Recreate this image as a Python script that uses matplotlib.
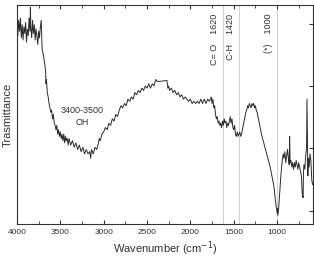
import numpy as np
import matplotlib
matplotlib.use("Agg")
import matplotlib.pyplot as plt

plt.rcParams['font.family'] = ['Liberation Sans', 'DejaVu Sans']

# wavenumber (cm-1) and transmittance (arbitrary units)
wavenumber = [4000, 3990, 3980, 3970, 3960, 3950, 3940, 3930, 3920, 3910, 3900, 3890, 3880, 3870,
              3860, 3850, 3845, 3840, 3830, 3820, 3810, 3800, 3790, 3780, 3770, 3760, 3750, 3740,
              3730, 3720, 3710, 3700, 3690, 3680, 3670, 3665, 3660, 3650, 3640, 3630, 3620, 3610,
              3600, 3590, 3580, 3570, 3560, 3550, 3540, 3530, 3520, 3510, 3500, 3490, 3480, 3470,
              3460, 3450, 3440, 3430, 3420, 3410, 3400, 3380, 3360, 3340, 3320, 3300, 3280, 3260,
              3240, 3220, 3200, 3180, 3160, 3150, 3140, 3120, 3100, 3080, 3060, 3050, 3040, 3020,
              3000, 2980, 2960, 2940, 2920, 2900, 2880, 2860, 2840, 2820, 2800, 2780, 2760, 2740,
              2720, 2700, 2680, 2660, 2640, 2620, 2600, 2580, 2560, 2540, 2520, 2500, 2480, 2460,
              2440, 2420, 2400, 2380, 2270, 2260, 2250, 2240, 2220, 2200, 2180, 2160, 2140, 2120,
              2100, 2080, 2060, 2040, 2020, 2000, 1980, 1960, 1940, 1920, 1900, 1880, 1860, 1840,
              1820, 1800, 1780, 1760, 1750, 1740, 1730, 1720, 1710, 1700, 1690, 1680, 1670, 1660,
              1650, 1640, 1630, 1620, 1610, 1600, 1590, 1580, 1570, 1560, 1550, 1540, 1530, 1520,
              1510, 1500, 1490, 1480, 1470, 1460, 1450, 1440, 1430, 1420, 1410, 1400, 1390, 1380,
              1370, 1360, 1350, 1340, 1330, 1320, 1310, 1300, 1290, 1280, 1270, 1260, 1250, 1240,
              1230, 1220, 1210, 1200, 1180, 1160, 1140, 1120, 1100, 1080, 1060, 1040, 1030, 1020,
              1010, 1000, 995, 990, 980, 970, 960, 950, 940, 930, 920, 910, 900, 890,
              880, 870, 860, 855, 850, 840, 830, 820, 810, 800, 790, 780, 770, 760,
              750, 740, 730, 720, 710, 700, 695, 690, 680, 670, 660, 655, 650, 645,
              640, 630, 620, 610, 600, 590]
transmittance = [90, 86, 93, 88, 94, 85, 91, 84, 90, 87, 92, 83, 89, 86,
                 94, 88, 99, 90, 85, 93, 87, 91, 84, 89, 86, 82, 88, 85,
                 90, 93, 80, 78, 76, 73, 70, 64, 66, 60, 58, 55, 53, 51,
                 52, 48, 50, 46, 45, 43, 45, 41, 43, 40, 42, 39, 41, 38,
                 41, 37, 40, 38, 39, 36, 39, 36, 38, 35, 37, 34, 36, 33,
                 35, 32, 34, 32, 33, 30, 34, 32, 35, 34, 37, 39, 38, 41,
                 42, 44, 43, 46, 45, 48, 47, 50, 49, 52, 54, 53, 55, 54,
                 57, 56, 58, 57, 60, 59, 61, 60, 62, 61, 63, 62, 64, 62,
                 64, 63, 66, 65, 65.5, 62, 63, 61, 62, 60, 61, 59, 60, 58,
                 59, 57, 58, 57, 56, 57, 55, 56, 55, 56, 55, 57, 55, 57,
                 55, 57, 56, 58, 55, 57, 53, 54, 50, 48, 49, 46, 47, 45,
                 46, 44, 47, 45, 48, 46, 47, 44, 46, 45, 47, 49, 46, 48,
                 44, 43, 45, 41, 40, 42, 40, 41, 42, 40, 41, 43, 45, 47,
                 49, 51, 52, 54, 53, 55, 54, 53, 55, 54, 55, 53, 54, 52,
                 51, 49, 47, 45, 41, 38, 35, 32, 29, 26, 22, 18, 15, 11,
                 8, 5, 7, 4, 8, 14, 20, 25, 29, 32, 30, 33, 28, 31,
                 34, 30, 27, 40, 28, 29, 26, 28, 25, 28, 26, 29, 27, 25,
                 28, 26, 24, 22, 14, 12, 24, 27, 25, 31, 35, 57, 40, 22,
                 30, 26, 32, 29, 20, 18]

band_pos = [1620, 1440, 1000]
band_text = ['C= O    1620', 'C-H    1420', '(*)    1000']

fig = plt.figure(figsize=(3.14, 2.61), dpi=100)
ax = fig.add_axes([0.054, 0.142, 0.943, 0.839])

ax.plot(wavenumber, transmittance, color='#2b2b2b', lw=0.7)

for pos, txt in zip(band_pos, band_text):
    ax.axvline(pos, color='#c8c8c8', lw=0.6, zorder=0)
    ax.text(pos + 50, 96, txt, rotation=90, ha='right', va='top',
            fontsize=6.5, color='#333333')

ax.text(3250, 49, '3400-3500\nOH', ha='center', va='center', fontsize=6.5,
        color='#333333', linespacing=1.5)

ax.set_xlim(4000, 585)
ax.set_ylim(0, 100)
ax.set_xticks([4000, 3500, 3000, 2500, 2000, 1500, 1000])
ax.set_xticks(np.arange(750, 4000, 500), minor=True)
ax.tick_params(axis='x', which='both', direction='in', top=True, labelsize=6,
               colors='#333333', length=3, pad=4)
ax.tick_params(axis='x', which='minor', length=2)
ax.set_yticks([6, 34.5, 63, 91.5])
ax.tick_params(axis='y', direction='in', left=False, right=True, labelleft=False,
               length=3, colors='#333333')
for s in ax.spines.values():
    s.set_color('#333333')
    s.set_linewidth(0.8)

ax.set_xlabel('Wavenumber (cm$^{-1}$)', fontsize=8, color='#333333', labelpad=2)
ax.set_ylabel('Trasmittance', fontsize=8, color='#333333', labelpad=3)

fig.savefig('out.png', dpi=100)
